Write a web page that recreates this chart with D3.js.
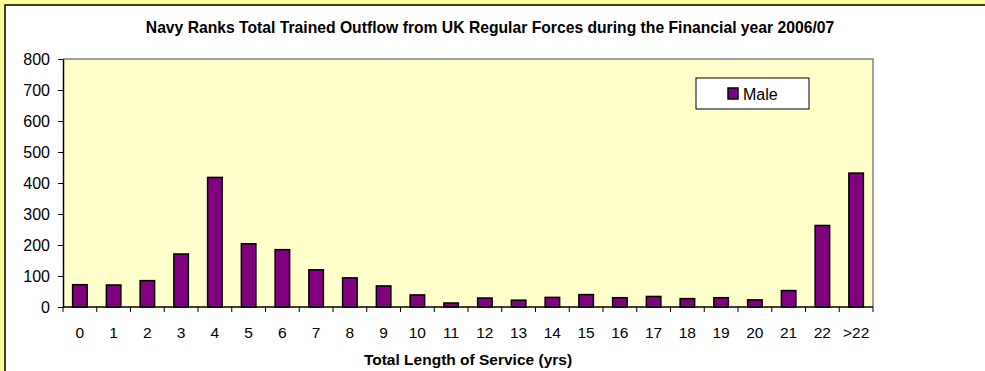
<!DOCTYPE html>
<html>
<head>
<meta charset="utf-8">
<script src="https://cdn.jsdelivr.net/npm/d3@7"></script>
<style>
  html, body { margin: 0; padding: 0; background: #FFFF99; }
  svg { display: block; font-family: Arial, "Liberation Sans", sans-serif; }
</style>
</head>
<body>
<svg id="chart" width="985" height="371"></svg>
<script>
// Years of service categories and trained outflow counts
const categories = ["0","1","2","3","4","5","6","7","8","9","10","11","12","13","14","15","16","17","18","19","20","21","22",">22"];
const maleOutflow = [72, 71, 85, 171, 418, 204, 185, 120, 94, 68, 39, 13, 29, 22, 31, 40, 30, 34, 27, 30, 23, 53, 263, 432];
const yTicks = [0, 100, 200, 300, 400, 500, 600, 700, 800];
const seriesName = "Male";
const titleText = "Navy Ranks Total Trained Outflow from UK Regular Forces during the Financial year 2006/07";
const xTitleText = "Total Length of Service (yrs)";

const svg = d3.select("#chart");
const W = 985, H = 371;

// yellow page with a white framed chart area
svg.append("rect").attr("x", 0).attr("y", 0).attr("width", W).attr("height", H).attr("fill", "#FFFF99");
svg.append("rect").attr("x", 5).attr("y", 5).attr("width", W).attr("height", H)
  .attr("fill", "#FFFFFF").attr("stroke", "#000").attr("stroke-width", 1.5);

const plot = { left: 63, right: 873, top: 59, bottom: 307 };

const x = d3.scaleBand().domain(categories).range([plot.left, plot.right]).paddingInner(0.57).paddingOuter(0.285);
const xEdges = d3.scaleBand().domain(categories).range([plot.left, plot.right]);
const y = d3.scaleLinear().domain([0, 800]).range([plot.bottom, plot.top]);

// plot background
svg.append("rect").attr("x", plot.left).attr("y", plot.top)
  .attr("width", plot.right - plot.left).attr("height", plot.bottom - plot.top)
  .attr("fill", "#FFFFCC");
// grey frame on top and right
svg.append("path")
  .attr("d", `M${plot.left},${plot.top}H${plot.right}V${plot.bottom}`)
  .attr("fill", "none").attr("stroke", "#808080").attr("stroke-width", 1.5);

// bars
svg.append("g").selectAll("rect").data(maleOutflow).join("rect")
  .attr("x", (d, i) => x(categories[i]))
  .attr("y", d => y(d))
  .attr("width", x.bandwidth())
  .attr("height", d => y(0) - y(d))
  .attr("fill", "#800080")
  .attr("stroke", "#000").attr("stroke-width", 1.5);

// y axis
const yAxis = d3.axisLeft(y).tickValues(yTicks).tickSize(5).tickPadding(8).tickSizeOuter(0);
const gy = svg.append("g").attr("transform", `translate(${plot.left},0)`).call(yAxis);
gy.select(".domain").attr("stroke", "#000").attr("stroke-width", 1.5);
gy.selectAll(".tick line").attr("stroke", "#000");
gy.selectAll(".tick text").attr("font-size", 16).attr("fill", "#000").attr("font-family", "Arial, 'Liberation Sans', sans-serif");

// x axis: ticks at category boundaries
const gx = svg.append("g").attr("transform", `translate(0,${plot.bottom})`);
gx.append("line").attr("x1", plot.left).attr("x2", plot.right).attr("stroke", "#000").attr("stroke-width", 1.5);
const boundaries = categories.map(c => xEdges(c)).concat([plot.right]);
gx.selectAll("line.tk").data(boundaries).join("line").attr("class", "tk")
  .attr("x1", d => d).attr("x2", d => d).attr("y1", 0).attr("y2", 5)
  .attr("stroke", "#000");
gx.selectAll("text").data(categories).join("text")
  .attr("x", d => xEdges(d) + xEdges.bandwidth() / 2)
  .attr("y", 31)
  .attr("text-anchor", "middle")
  .attr("font-size", 15.5).attr("fill", "#000")
  .text(d => d);

// titles
svg.append("text").attr("x", 490).attr("y", 33).attr("text-anchor", "middle")
  .attr("font-size", 15.7).attr("font-weight", "bold").text(titleText);
svg.append("text").attr("x", (plot.left + plot.right) / 2).attr("y", 365).attr("text-anchor", "middle")
  .attr("font-size", 15.5).attr("font-weight", "bold").text(xTitleText);

// legend
const lg = svg.append("g").attr("transform", "translate(696,78)");
lg.append("rect").attr("width", 113).attr("height", 31).attr("fill", "#fff").attr("stroke", "#000").attr("stroke-width", 1);
lg.append("rect").attr("x", 32).attr("y", 10).attr("width", 10).attr("height", 11)
  .attr("fill", "#800080").attr("stroke", "#000").attr("stroke-width", 1.5);
lg.append("text").attr("x", 47).attr("y", 21.5).attr("font-size", 16).text(seriesName);
</script>
</body>
</html>
